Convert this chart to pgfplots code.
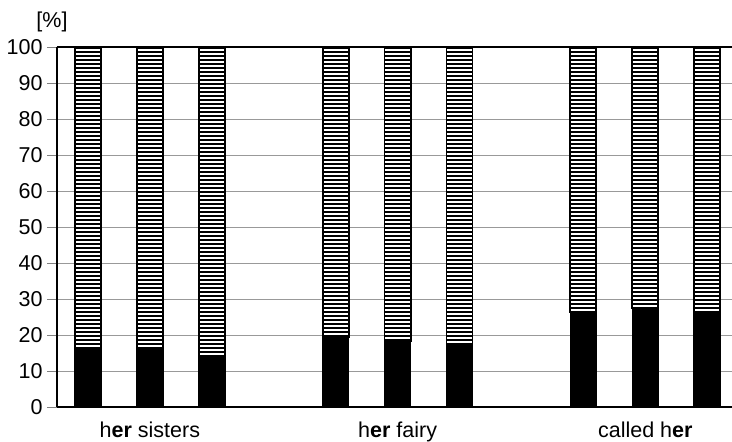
\documentclass[border=0pt]{standalone}
\usepackage{pgfplots}
\pgfplotsset{compat=1.18}
\usetikzlibrary{patterns}
\usepackage{fontspec}
\setmainfont{Liberation Sans}
\pgfdeclarepatternformonly{hlines}{\pgfpoint{-1pt}{-1pt}}{\pgfpoint{10pt}{5pt}}{\pgfpoint{10pt}{4pt}}{%
  \pgfsetlinewidth{1.2pt}%
  \pgfpathmoveto{\pgfpoint{-1pt}{2pt}}%
  \pgfpathlineto{\pgfpoint{10pt}{2pt}}%
  \pgfusepath{stroke}}
\begin{document}
\begin{tikzpicture}
\begin{axis}[
  name=ax,
  scale only axis,
  width=675pt, height=360pt,
  xmin=-0.5, xmax=10.4,
  ymin=0, ymax=100,
  ytick={0,10,...,100},
  xtick={1,5,9},
  xticklabels={h\textbf{er} sisters, h\textbf{er} fairy, called h\textbf{er}},
  major x tick style={draw=none},
  major y tick style={draw=gray, line width=0.8pt},
  tick align=outside,
  major tick length=10pt,
  ymajorgrids,
  grid style={gray!80, line width=0.8pt},
  extra y ticks={100},
  extra y tick labels={},
  extra y tick style={grid style={black, line width=2.2pt}, major tick length=0pt},
  axis x line*=bottom,
  axis y line*=left,
  x axis line style={line width=2pt, -},
  y axis line style={line width=1.6pt, -},
  ybar stacked,
  bar width=0.42,
  tick label style={font=\fontsize{21.5}{24}\selectfont},
  /pgf/number format/assume math mode=true,
  yticklabel style={xshift=-1pt},
  xticklabel style={yshift=-1pt},
  clip=false,
]
\addplot[fill=black, draw=black, line width=1.5pt] coordinates {
  (0,16) (1,16) (2,13.5) (4,19.4) (5,18.4) (6,17.5) (8,26.3) (9,27.4) (10,26.3)};
\addplot[draw=black, line width=1.8pt, pattern=hlines, pattern color=black] coordinates {
  (0,84) (1,84) (2,86.5) (4,80.6) (5,81.6) (6,82.5) (8,73.7) (9,72.6) (10,73.7)};
\node[font=\fontsize{21.5}{24}\selectfont, anchor=center] at ([shift={(-5pt,25pt)}]rel axis cs:0,1) {[\%]};
\end{axis}
\pgfresetboundingbox
\path ([shift={(-57pt,-35pt)}]ax.south west) rectangle ([shift={(0pt,47pt)}]ax.north east);
\end{tikzpicture}
\end{document}
